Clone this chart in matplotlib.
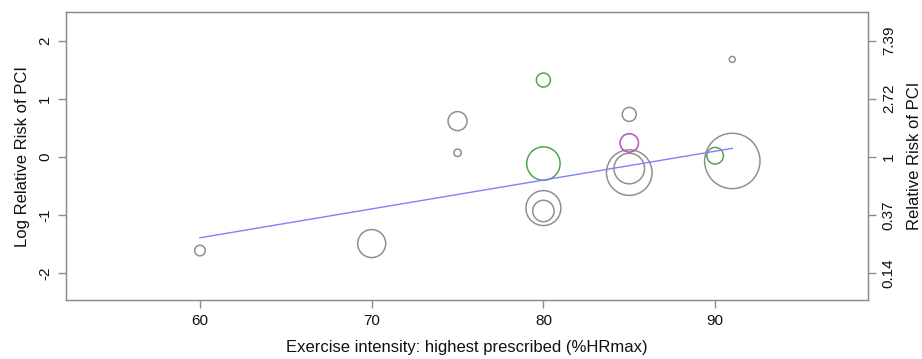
import numpy as np
import matplotlib
matplotlib.use("Agg")
import matplotlib.pyplot as plt

plt.rcParams['font.family'] = ['Liberation Sans', 'DejaVu Sans']
plt.rcParams['axes.unicode_minus'] = False

# ─── DATA ───────────────────────────────────────────────────────────────────
# exercise intensity (%HRmax), log relative risk, bubble radius (px), group
intensity = [60, 70, 75, 75, 80, 80, 80, 80, 85, 85, 85, 85, 90, 91, 91]
log_rr = [-1.61, -1.49, 0.615, 0.07, 1.32, -0.115, -0.88, -0.93,
          0.73, 0.24, -0.20, -0.27, 0.02, -0.07, 1.675]
radius = [5.3, 14.0, 9.5, 3.7, 7.0, 16.7, 17.5, 10.7,
          7.0, 9.2, 15.3, 22.8, 8.3, 27.7, 3.0]
group = ['grey', 'grey', 'grey', 'grey', 'green', 'green', 'grey', 'grey',
         'grey', 'magenta', 'grey', 'grey', 'green', 'grey', 'grey']

# meta-regression fitted line endpoints
fit_x = [60, 91]
fit_y = [-1.39, 0.147]

right_ticks = [-2, -1, 0, 1, 2]
right_labels = ['0.14', '0.37', '1', '2.72', '7.39']

colors = {'grey': '#909090', 'green': '#4ea84e', 'magenta': '#c04fb4'}

# ─── PLOT ───────────────────────────────────────────────────────────────────
fig = plt.figure(figsize=(9.22, 3.59), dpi=100)
ax = fig.add_axes([0.0716, 0.1643, 0.8698, 0.8023])

# bigger circles first so small ones stay visible
order = np.argsort(radius)[::-1]
for i in order:
    d_pt = 2 * radius[i] * 0.72
    ax.scatter(intensity[i], log_rr[i], s=d_pt ** 2, facecolors='none',
               edgecolors=colors[group[i]], linewidths=1.1, zorder=3)

ax.plot(fit_x, fit_y, color='#8080ff', lw=1.0, zorder=4)

ax.set_xlim(52.2, 98.9)
ax.set_ylim(-2.46, 2.49)
ax.set_xticks([60, 70, 80, 90])
ax.set_yticks([-2, -1, 0, 1, 2])

spine_c = '#8c8c8c'
text_c = '#111111'
for sp in ax.spines.values():
    sp.set_color(spine_c)
    sp.set_linewidth(1.0)
ax.tick_params(colors=spine_c, labelcolor=text_c, length=6, width=1.0,
               labelsize=11, pad=4)
for lab in ax.get_yticklabels():
    lab.set_rotation(90)
    lab.set_va('center')

ax.set_xlabel('Exercise intensity: highest prescribed (%HRmax)',
              fontsize=12, color=text_c, labelpad=9)
ax.set_ylabel('Log Relative Risk of PCI', fontsize=12, color=text_c,
              labelpad=6)

ax2 = ax.twinx()
ax2.set_ylim(ax.get_ylim())
ax2.set_yticks(right_ticks)
ax2.set_yticklabels(right_labels)
for sp in ax2.spines.values():
    sp.set_color(spine_c)
ax2.tick_params(colors=spine_c, labelcolor=text_c, length=6, width=1.0,
                labelsize=11, pad=4)
for lab in ax2.get_yticklabels():
    lab.set_rotation(90)
    lab.set_va('center')
ax2.set_ylabel('Relative Risk of PCI', fontsize=12, color=text_c,
               labelpad=8)

plt.savefig('out.png', dpi=100)
